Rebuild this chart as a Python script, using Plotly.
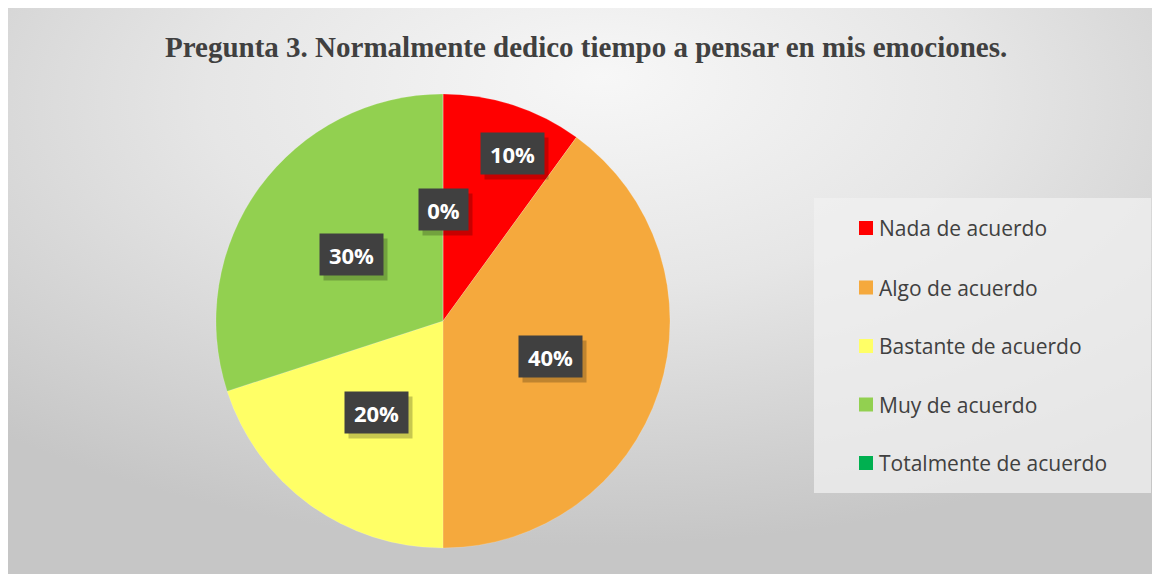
import base64
import math
import plotly.graph_objects as go

# ---- data ----
categories = ["Nada de acuerdo", "Algo de acuerdo", "Bastante de acuerdo",
              "Muy de acuerdo", "Totalmente de acuerdo"]
values = [10, 40, 20, 30, 0]
colors = ["#FF0000", "#F5A93D", "#FFFF66", "#92D050", "#00B050"]
title_text = "Pregunta 3. Normalmente dedico tiempo a pensar en mis emociones."

# page body has an 8px margin; work in page pixels and convert
OFF = 8
W, H = 1155, 566

# pie geometry (page pixels)
cx, cy, R = 443, 321, 227

def px_x(x):
    return (x - OFF) / W

def px_y(y):
    return 1 - (y - OFF) / H

fig = go.Figure()

# background radial gradient (chart area)
svg = """<svg xmlns='http://www.w3.org/2000/svg' width='1144' height='566' viewBox='0 0 1144 566' preserveAspectRatio='none'>
<defs><radialGradient id='g' cx='0.5' cy='0.2' r='0.75' fx='0.52' fy='0.12'>
<stop offset='0' stop-color='#f7f7f7'/>
<stop offset='0.45' stop-color='#e6e6e6'/>
<stop offset='1' stop-color='#c6c6c6'/>
</radialGradient></defs>
<rect width='1144' height='566' fill='url(#g)'/></svg>"""
src = "data:image/svg+xml;base64," + base64.b64encode(svg.encode()).decode()
fig.add_layout_image(dict(source=src, xref="paper", yref="paper",
                          x=px_x(8), y=px_y(8), sizex=(1152 - 8) / W, sizey=566 / H,
                          sizing="stretch", xanchor="left", yanchor="top", layer="below"))

fig.add_trace(go.Pie(
    labels=categories, values=values, sort=False, direction="clockwise", rotation=0,
    marker=dict(colors=colors, line=dict(color="rgba(255,255,255,0.3)", width=0.5)),
    textinfo="none", hoverinfo="label+percent", showlegend=False,
    domain=dict(x=[px_x(cx - R), px_x(cx + R)], y=[px_y(cy + R), px_y(cy - R)]),
))

annotations = []
shapes = []

# data labels
total = sum(values)
radial = [0.8, 0.5, 0.5, 0.5, 0.49]
ang_adj = [4.5, 0, 0, 0, 0]
cum = 0
for i, v in enumerate(values):
    mid = (cum + v / 2) / total * 360 + ang_adj[i]
    cum += v
    r = R * radial[i]
    lx = cx + r * math.sin(math.radians(mid))
    ly = cy - r * math.cos(math.radians(mid))
    pct = round(v / total * 100)
    txt = f"{pct}%"
    bw = 63 if pct >= 10 else 49
    # shadow
    annotations.append(dict(x=px_x(lx + 4), y=px_y(ly + 5), xref="paper", yref="paper",
                            xanchor="center", yanchor="middle",
                            text=" ", showarrow=False, width=bw, height=41,
                            bgcolor="rgba(0,0,0,0.22)", borderpad=0,
                            font=dict(size=22)))
    annotations.append(dict(x=px_x(lx), y=px_y(ly), xref="paper", yref="paper",
                            xanchor="center", yanchor="middle",
                            text=txt, showarrow=False, width=bw, height=41,
                            bgcolor="#404040", borderpad=0,
                            font=dict(family="Open Sans", size=22, color="white", weight="bold")))

# title
annotations.append(dict(x=px_x(586), y=px_y(47), xref="paper", yref="paper",
                        xanchor="center", yanchor="middle",
                        text=title_text, showarrow=False,
                        font=dict(family="Liberation Serif", size=29, color="#404040", weight="bold")))

# legend box
shapes.append(dict(type="rect", xref="paper", yref="paper",
                   x0=px_x(814), x1=px_x(1151), y0=px_y(493), y1=px_y(198),
                   fillcolor="rgba(240,240,240,0.75)", line=dict(width=0), layer="below"))
rows = [228, 287.5, 346, 404.5, 463]
for name, col, ry in zip(categories, colors, rows):
    shapes.append(dict(type="rect", xref="paper", yref="paper",
                       x0=px_x(859), x1=px_x(873), y0=px_y(ry + 7), y1=px_y(ry - 7),
                       fillcolor=col, line=dict(width=0)))
    annotations.append(dict(x=px_x(877), y=px_y(ry), xref="paper", yref="paper",
                            text=name, showarrow=False, xanchor="left", yanchor="middle",
                            font=dict(family="Open Sans", size=21, color="#404040")))

fig.update_layout(
    width=W, height=H, margin=dict(l=0, r=0, t=0, b=0),
    paper_bgcolor="white", plot_bgcolor="white",
    annotations=annotations, shapes=shapes, showlegend=False,
)

fig.write_html("out.html")
